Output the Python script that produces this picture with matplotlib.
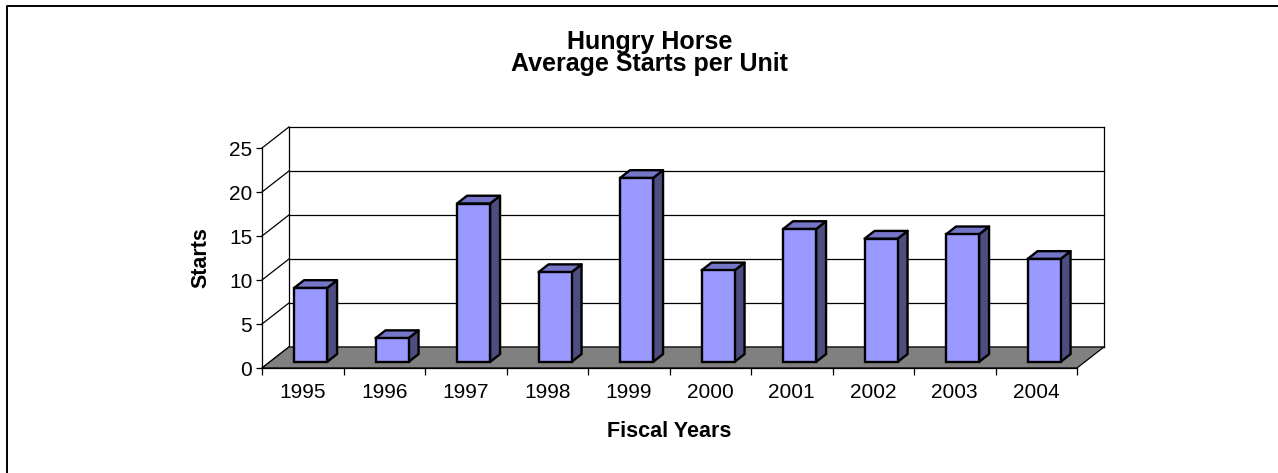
import matplotlib
matplotlib.use("Agg")
import matplotlib.pyplot as plt
from matplotlib.patches import Polygon
from matplotlib.lines import Line2D

plt.rcParams["font.family"] = ["Liberation Sans", "DejaVu Sans"]

years = ["1995", "1996", "1997", "1998", "1999", "2000", "2001", "2002", "2003", "2004"]
starts = [8.4, 2.7, 18.0, 10.2, 20.9, 10.4, 15.1, 14.0, 14.5, 11.7]
yticks = [0, 5, 10, 15, 20, 25]

FRONT, SIDE, TOP = "#9999ff", "#4d4d80", "#7676c8"
DX, DY = 0.331, 2.39          # depth offset of the back wall, in data units
F0, F1 = 0.29, 0.66           # bar front/back as fraction of depth
BW = 0.405

fig = plt.figure(figsize=(12.78, 4.73), dpi=100)
ax = fig.add_axes([262 / 1278, 105 / 473, 815 / 1278, 220 / 473])
n = len(years)
ymax = yticks[-1]
ax.set_xlim(0, n); ax.set_ylim(0, ymax)
ax.patch.set_visible(False)

# back wall + left wall gridlines
kw = dict(color="black", lw=0.9, clip_on=False, zorder=1)
for v in yticks:
    ax.plot([DX, n + DX], [v + DY, v + DY], **kw)
    ax.plot([0, DX], [v, v + DY], **kw)
ax.plot([DX, DX], [DY, ymax + DY], **kw)
ax.plot([n + DX, n + DX], [DY, ymax + DY], **kw)

# floor
ax.add_patch(Polygon([(0, 0), (n, 0), (n + DX, DY), (DX, DY)], closed=True,
                     facecolor="#808080", edgecolor="black", lw=0.9, clip_on=False, zorder=2))

# bars: side and top faces as polygons, front faces via ax.bar
lw = 1.7
for i, v in enumerate(starts):
    x0 = i + 0.5 + F0 * DX - BW / 2
    x1 = x0 + BW
    b = F0 * DY
    ddx, ddy = (F1 - F0) * DX, (F1 - F0) * DY
    ax.add_patch(Polygon([(x1, b), (x1 + ddx, b + ddy), (x1 + ddx, b + v + ddy), (x1, b + v)],
                         closed=True, facecolor=SIDE, edgecolor="black", lw=lw,
                         joinstyle="round", clip_on=False, zorder=3))
    ax.add_patch(Polygon([(x0, b + v), (x1, b + v), (x1 + ddx, b + v + ddy), (x0 + ddx, b + v + ddy)],
                         closed=True, facecolor=TOP, edgecolor="black", lw=lw,
                         joinstyle="round", clip_on=False, zorder=3))
ax.bar([i + 0.5 + F0 * DX for i in range(n)], starts, width=BW, bottom=F0 * DY,
       color=FRONT, edgecolor="black", linewidth=lw, zorder=4, clip_on=False)

for s in ["top", "right"]:
    ax.spines[s].set_visible(False)
for s in ["left", "bottom"]:
    ax.spines[s].set_linewidth(0.9)
    ax.spines[s].set_zorder(5)

ax.set_yticks(yticks)
ax.tick_params(axis="y", direction="out", length=4, width=0.9, pad=3, labelsize=15)
ax.set_xticks(range(n + 1))
ax.set_xticklabels([])
ax.set_xticks([i + 0.5 for i in range(n)], minor=True)
ax.set_xticklabels(years, minor=True)
ax.tick_params(axis="x", which="major", direction="out", length=5, width=0.9)
ax.tick_params(axis="x", which="minor", length=0, pad=10.5, labelsize=15)

fig.text(649.5 / 1278, 1 - 49 / 473, "Hungry Horse", ha="center", va="baseline",
         fontsize=18, fontweight="bold")
fig.text(649.5 / 1278, 1 - 71 / 473, "Average Starts per Unit", ha="center", va="baseline",
         fontsize=18, fontweight="bold")
fig.text(201 / 1278, 1 - 258 / 473, "Starts", ha="center", va="center", rotation=90,
         fontsize=15.5, fontweight="bold")
fig.text(669 / 1278, 1 - 437 / 473, "Fiscal Years", ha="center", va="baseline",
         fontsize=15.5, fontweight="bold")

# chart area border (only top and left show in the frame)
bx, by = 6.5 / 1278, 1 - 6.5 / 473
fig.add_artist(Line2D([bx, bx, 1.0], [0.0, by, by], transform=fig.transFigure,
                      color="black", lw=1.4))

fig.savefig("out.png", dpi=100)
